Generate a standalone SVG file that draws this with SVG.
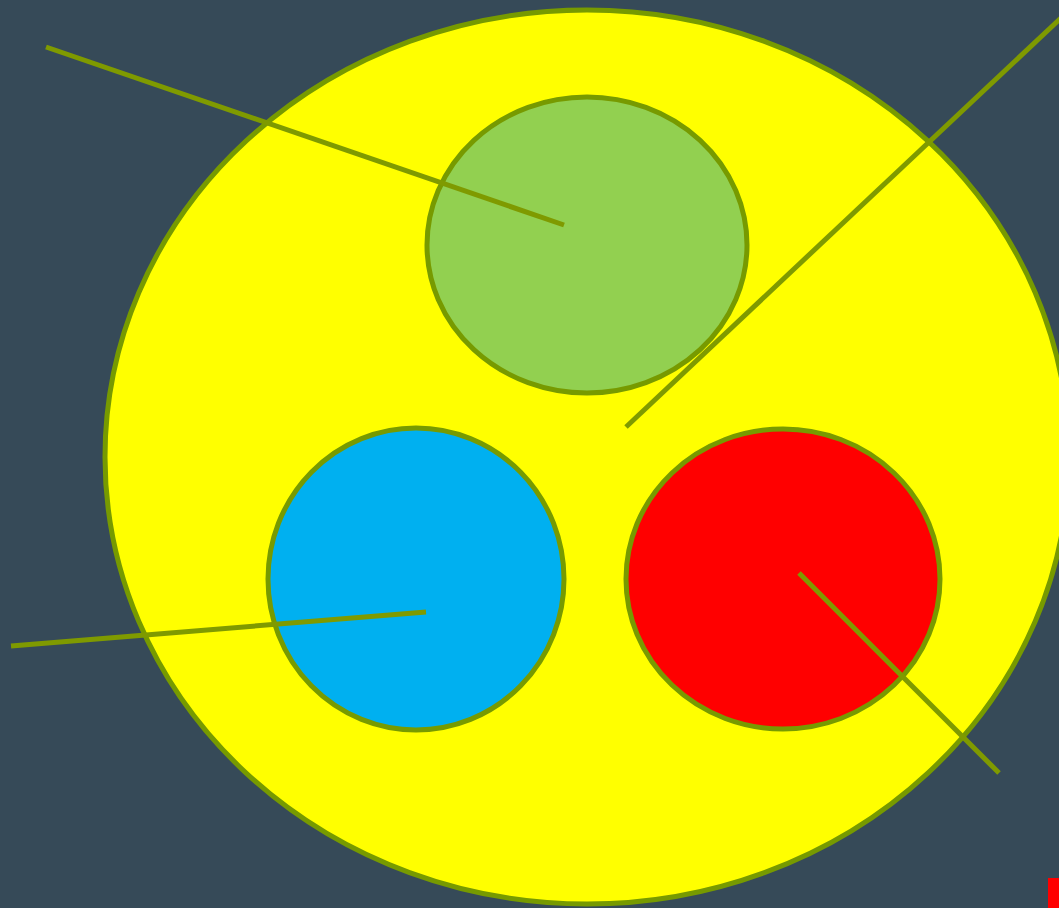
<svg xmlns="http://www.w3.org/2000/svg" width="1059" height="908" viewBox="0 0 1059 908">
<style>
.n{stroke:#779a00;stroke-width:5}
.c{stroke:#7f9a00;stroke-width:5;fill:none}
</style>
<rect x="0" y="0" width="1059" height="908" fill="#364a58"/>
<g id="outer"><ellipse class="n" cx="587" cy="457" rx="482" ry="447" fill="#ffff00"/></g>
<g id="green"><ellipse class="n" cx="587" cy="245" rx="160" ry="148" fill="#92d050"/></g>
<g id="blue"><ellipse class="n" cx="416" cy="579" rx="148" ry="151" fill="#00b0f0"/></g>
<g id="red"><ellipse class="n" cx="783" cy="579" rx="157" ry="150" fill="#ff0000"/></g>
<g id="marker-red"><rect x="1048" y="878" width="11" height="30" fill="#ff0000"/></g>
<g id="connectors">
<line class="c" x1="46" y1="47" x2="564" y2="225"/>
<line class="c" x1="1062" y1="17" x2="626" y2="427"/>
<line class="c" x1="11" y1="646" x2="426" y2="612"/>
<line class="c" x1="799" y1="573" x2="999" y2="773"/>
</g>
</svg>
